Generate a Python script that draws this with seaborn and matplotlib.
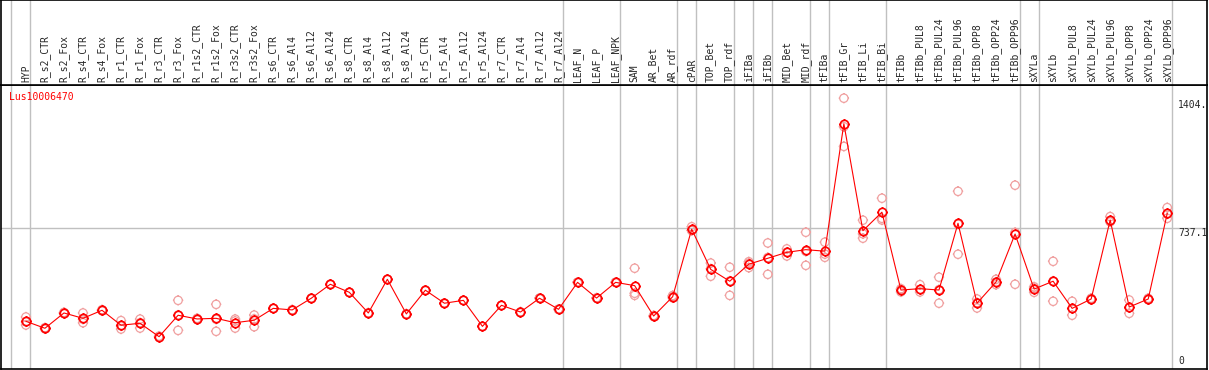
import matplotlib
matplotlib.use('Agg')
import numpy as np
import pandas as pd
import matplotlib.pyplot as plt
from matplotlib.path import Path
import matplotlib.transforms as mtrans
import seaborn as sns

samples = ['HYP', 'R_s2_CTR', 'R_s2_Fox', 'R_s4_CTR', 'R_s4_Fox', 'R_r1_CTR', 'R_r1_Fox',
           'R_r3_CTR', 'R_r3_Fox', 'R_r1s2_CTR', 'R_r1s2_Fox', 'R_r3s2_CTR', 'R_r3s2_Fox',
           'R_s6_CTR', 'R_s6_Al4', 'R_s6_Al12', 'R_s6_Al24', 'R_s8_CTR', 'R_s8_Al4',
           'R_s8_Al12', 'R_s8_Al24', 'R_r5_CTR', 'R_r5_Al4', 'R_r5_Al12', 'R_r5_Al24',
           'R_r7_CTR', 'R_r7_Al4', 'R_r7_Al12', 'R_r7_Al24', 'LEAF_N', 'LEAF_P', 'LEAF_NPK',
           'SAM', 'AR_Bet', 'AR_rdf', 'cPAR', 'TOP_Bet', 'TOP_rdf', 'iFIBa', 'iFIBb',
           'MID_Bet', 'MID_rdf', 'tFIBa', 'tFIB_Gr', 'tFIB_Li', 'tFIB_Bi', 'tFIBb',
           'tFIBb_PUL8', 'tFIBb_PUL24', 'tFIBb_PUL96', 'tFIBb_OPP8', 'tFIBb_OPP24',
           'tFIBb_OPP96', 'sXYLa', 'sXYLb', 'sXYLb_PUL8', 'sXYLb_PUL24', 'sXYLb_PUL96',
           'sXYLb_OPP8', 'sXYLb_OPP24', 'sXYLb_OPP96']

# three replicates per sample
rep1 = [272, 210, 290, 293, 304, 253, 261, 166, 359, 258, 338, 261, 282,
        317, 309, 370, 443, 401, 293, 469, 288, 412, 344, 359, 223, 333, 298, 370, 312,
        453, 371, 453, 527, 274, 372, 744, 554, 532, 561, 659, 628, 715, 663,
        1416, 778, 893, 420, 441, 480, 929, 366, 469, 961, 430, 563, 354, 362, 797,
        361, 362, 844]
rep2 = [246, 213, 293, 260, 307, 209, 214, 169, 202, 262, 197, 214, 221,
        317, 309, 370, 443, 401, 293, 469, 288, 412, 344, 359, 223, 333, 298, 370, 312,
        453, 371, 453, 396, 277, 378, 725, 485, 385, 530, 495, 591, 542, 584,
        1267, 684, 779, 416, 403, 344, 600, 319, 441, 443, 401, 354, 281, 366, 770,
        291, 366, 788]
rep3 = [230, 216, 296, 242, 310, 225, 242, 172, 282, 265, 260, 251, 262,
        317, 309, 370, 443, 401, 293, 469, 288, 412, 344, 359, 223, 333, 298, 370, 312,
        453, 371, 453, 385, 280, 384, 724, 524, 460, 553, 583, 611, 615, 601,
        1164, 707, 788, 403, 416, 415, 757, 347, 455, 714, 423, 460, 316, 370, 770,
        320, 370, 810]

group_ends = [-1, 0, 28, 31, 34, 35, 37, 38, 39, 41, 42, 45, 52, 53, 60]
gene = 'Lus10006470'
ref_value = 737.1
top_label = '1404.'

rows = []
for i, s in enumerate(samples):
    for r, vals in enumerate([rep1, rep2, rep3]):
        rows.append({'pos': i, 'sample': s, 'rep': r + 1, 'value': vals[i]})
df = pd.DataFrame(rows)

sns.set_style('white')
plt.rcParams['font.family'] = ['DejaVu Sans Mono']

# circle with four little ticks
t = 1.25
ticks = Path([(0, 1), (0, t), (0, -1), (0, -t), (1, 0), (t, 0), (-1, 0), (-t, 0)],
             [Path.MOVETO, Path.LINETO] * 4)
ring = Path.make_compound_path(Path.unit_circle(), ticks)

fig = plt.figure(figsize=(12.09, 3.70), dpi=100)
left, width = 1 / 1209, 1206 / 1209
ax = fig.add_axes([left, 1 / 370, width, 284 / 370])
hdr = fig.add_axes([left, 285 / 370, width, 85 / 370])

xlim = (-1.31, 62.09)
grid_c = '#c0c0c0'

for b in group_ends:
    ax.axvline(b + 0.24, color=grid_c, lw=1, zorder=0)
    hdr.axvline(b + 0.24, color=grid_c, lw=1, zorder=0)
ax.axhline(ref_value, color=grid_c, lw=1, zorder=0)

sns.scatterplot(data=df, x='pos', y='value', marker=ring, s=56, color='#f0a0a0',
                facecolor='none', edgecolor='#f0a0a0', linewidth=0.9, ax=ax, zorder=2)
sns.lineplot(data=df, x='pos', y='value', estimator='mean', errorbar=None, color='red',
             lw=0.8, marker=ring, markersize=7.5, markerfacecolor='none',
             markeredgecolor='red', markeredgewidth=1.2, ax=ax, zorder=3)

ax.set_xlim(*xlim)
ax.set_ylim(0, 1485)
ax.set_xlabel('')
ax.set_ylabel('')
ax.set_xticks([])
ax.set_yticks([])

tr = mtrans.blended_transform_factory(ax.transAxes, ax.transData)
ax.text(0.976, 1404, top_label, transform=tr, ha='left', va='top', fontsize=7)
ax.text(0.976, ref_value, str(ref_value), transform=tr, ha='left', va='top', fontsize=7)
ax.text(0.976, 0.012, '0', transform=ax.transAxes, ha='left', va='bottom', fontsize=7)
ax.text(0.0066, 0.958, gene, transform=ax.transAxes, ha='left', va='center',
        fontsize=7, color='red')

hdr.set_xlim(*xlim)
hdr.set_ylim(0, 1)
hdr.set_xticks([])
hdr.set_yticks([])
for i, s in enumerate(samples):
    hdr.text(i, 0.035, s, rotation=90, ha='center', va='bottom', fontsize=7)

for a in (ax, hdr):
    for sp in a.spines.values():
        sp.set_color('black')
        sp.set_linewidth(1.2)

plt.savefig('out.png', dpi=100)
